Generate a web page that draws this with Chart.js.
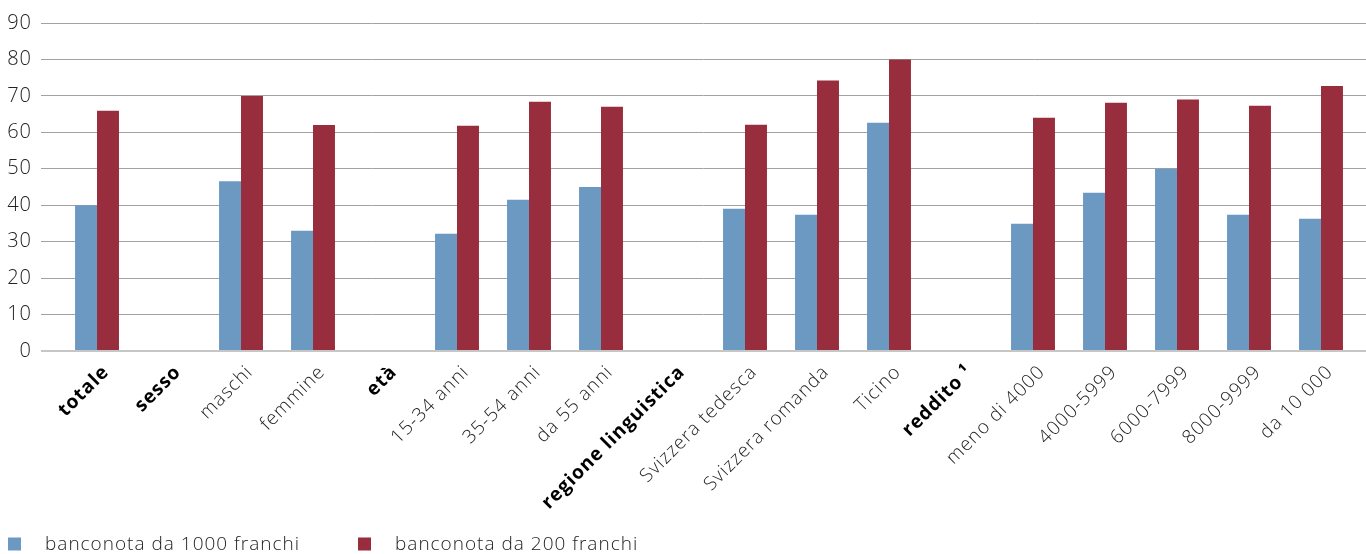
<!DOCTYPE html>
<html lang="it">
<head>
<meta charset="utf-8">
<title>Banconote da 1000 e 200 franchi</title>
<script src="https://cdn.jsdelivr.net/npm/chart.js@4/dist/chart.umd.min.js"></script>
<style>
  html, body { margin: 0; padding: 0; background: #fff; }
  #wrap { width: 1366px; height: 554px; position: relative; }
</style>
</head>
<body>
<div id="wrap"><canvas id="chart"></canvas></div>
<script>
// Categorie (intestazioni di gruppo in grassetto, senza valori)
const categories = [
    'totale', 'sesso', 'maschi', 'femmine', 'età', '15-34 anni', '35-54 anni', 'da 55 anni',
    'regione linguistica', 'Svizzera tedesca', 'Svizzera romanda', 'Ticino',
    'reddito ¹', 'meno di 4000', '4000-5999', '6000-7999', '8000-9999', 'da 10 000'
];
const headers = ['totale', 'sesso', 'età', 'regione linguistica', 'reddito ¹'];

const serie1000 = [40, null, 46.6, 33, null, 32.2, 41.5, 45, null, 39, 37.4, 62.6, null, 34.9, 43.4, 50, 37.4, 36.3];
const serie200 = [65.9, null, 70, 62, null, 61.8, 68.4, 67, null, 62.1, 74.2, 80, null, 64, 68.1, 69, 67.3, 72.7];

const seriesLabels = ['banconota da 1000 franchi', 'banconota da 200 franchi'];
const seriesColors = ['#6c99c1', '#972d3d'];

const yTicks = [0, 10, 20, 30, 40, 50, 60, 70, 80, 90];

const FONT = '"Open Sans", Roboto, "Liberation Sans", Arial, sans-serif';

// asse x lineare: una unità per categoria, così le barre cadono sugli indici
const toPoints = values => values.map((v, i) => ({ x: i, y: v }));

// testo un po' più spaziato (vale anche per le misure del layout)
const spacing = {
    id: 'spacing',
    beforeUpdate(chart) { chart.ctx.letterSpacing = '1px'; }
};

// legenda disegnata a mano sotto le etichette dell'asse x
const bottomLegend = {
    id: 'bottomLegend',
    afterDraw(chart, args, opts) {
        const ctx = chart.ctx;
        ctx.save();
        ctx.font = '300 19px ' + FONT;
        ctx.textBaseline = 'middle';
        chart.data.datasets.forEach((ds, i) => {
            const x = opts.x[i];
            ctx.fillStyle = ds.backgroundColor;
            ctx.fillRect(x, opts.y - 6.5, 13, 13);
            ctx.fillStyle = '#222';
            ctx.fillText(ds.label, x + 37, opts.y + 1);
        });
        ctx.restore();
    }
};

new Chart(document.getElementById('chart'), {
    type: 'bar',
    data: {
        datasets: [
            { label: seriesLabels[0], data: toPoints(serie1000), backgroundColor: seriesColors[0] },
            { label: seriesLabels[1], data: toPoints(serie200), backgroundColor: seriesColors[1] }
        ]
    },
    options: {
        responsive: true,
        maintainAspectRatio: false,
        animation: false,
        layout: { padding: { top: 23, right: 0, bottom: 0, left: 0 } },
        datasets: {
            bar: { barPercentage: 1, categoryPercentage: 0.61, borderWidth: 0 }
        },
        plugins: {
            legend: { display: false },
            tooltip: { enabled: false },
            bottomLegend: { x: [8, 358], y: 544 }
        },
        scales: {
            x: {
                type: 'linear',
                offset: false,
                min: -0.778,
                max: 17.625,
                grid: { display: false, drawTicks: false },
                border: { display: false },
                afterBuildTicks: s => { s.ticks = categories.map((_, i) => ({ value: i })); },
                afterFit: s => { s.height = 203; },
                ticks: {
                    autoSkip: false,
                    minRotation: 45,
                    maxRotation: 45,
                    padding: 10,
                    labelOffset: 9,
                    callback: v => categories[v],
                    color: ctx => headers.includes(categories[ctx.index]) ? '#000' : '#222',
                    font: ctx => ({
                        family: FONT,
                        size: 19,
                        weight: headers.includes(categories[ctx.index]) ? 'bold' : '300'
                    })
                }
            },
            y: {
                min: 0,
                max: 90,
                afterBuildTicks: s => { s.ticks = yTicks.map(v => ({ value: v })); },
                afterFit: s => { s.width = 41; },
                border: { display: false },
                grid: {
                    drawTicks: false,
                    color: ctx => ctx.tick.value === 0 ? '#c6c6c6' : '#a2a2a2',
                    lineWidth: ctx => ctx.tick.value === 0 ? 2 : 1
                },
                ticks: {
                    padding: 9,
                    color: '#222',
                    font: { family: FONT, size: 20, weight: '300' }
                }
            }
        }
    },
    plugins: [spacing, bottomLegend]
});
</script>
</body>
</html>
